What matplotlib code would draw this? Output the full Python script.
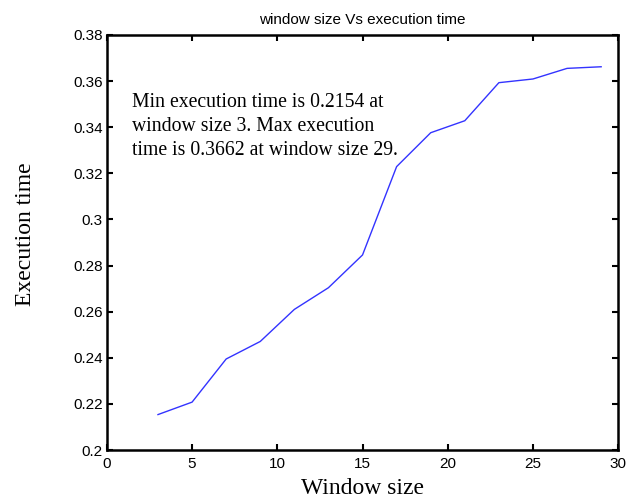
import matplotlib
matplotlib.use("Agg")
import matplotlib.pyplot as plt

window_size = [3, 5, 7, 9, 11, 13, 15, 17, 19, 21, 23, 25, 27, 29]
exec_time = [0.2154, 0.2208, 0.2395, 0.2471, 0.2610, 0.2704, 0.2846,
             0.3229, 0.3376, 0.3428, 0.3593, 0.3609, 0.3655, 0.3662]

x_ticks = [0, 5, 10, 15, 20, 25, 30]
y_ticks = [0.2, 0.22, 0.24, 0.26, 0.28, 0.3, 0.32, 0.34, 0.36, 0.38]
y_labels = ["0.2", "0.22", "0.24", "0.26", "0.28", "0.3", "0.32", "0.34", "0.36", "0.38"]

note = ("Min execution time is 0.2154 at\n"
        "window size 3. Max execution\n"
        "time is 0.3662 at window size 29.")

fig = plt.figure(figsize=(6.36, 4.99), dpi=100)
ax = fig.add_axes([0.168, 0.098, 0.804, 0.832])

ax.plot(window_size, exec_time, color="#3333ff", linewidth=1.0)

ax.set_xlim(0, 30)
ax.set_ylim(0.2, 0.38)
ax.set_xticks(x_ticks)
ax.set_yticks(y_ticks)
ax.set_yticklabels(y_labels)
ax.tick_params(direction="in", top=True, right=True, length=4, width=1.5)
ax.tick_params(axis="x", pad=5)
ax.tick_params(axis="y", pad=3)
for lbl in ax.get_xticklabels() + ax.get_yticklabels():
    lbl.set_family("Liberation Sans")
    lbl.set_fontsize(11)
for s in ax.spines.values():
    s.set_linewidth(1.8)

ax.set_title("window size Vs execution time", family="Liberation Sans",
             fontsize=11, pad=8)
ax.set_xlabel("Window size", family="Liberation Serif", fontsize=17, labelpad=5)
ax.set_ylabel("Execution time", family="Liberation Serif", fontsize=17, labelpad=27)
ax.yaxis.label.set_y(0.52)

# min / max note
ax.text(1.45, 0.355, note, family="Liberation Serif", fontsize=14.2,
        va="top", ha="left", linespacing=1.37)

fig.savefig("out.png", dpi=100)
